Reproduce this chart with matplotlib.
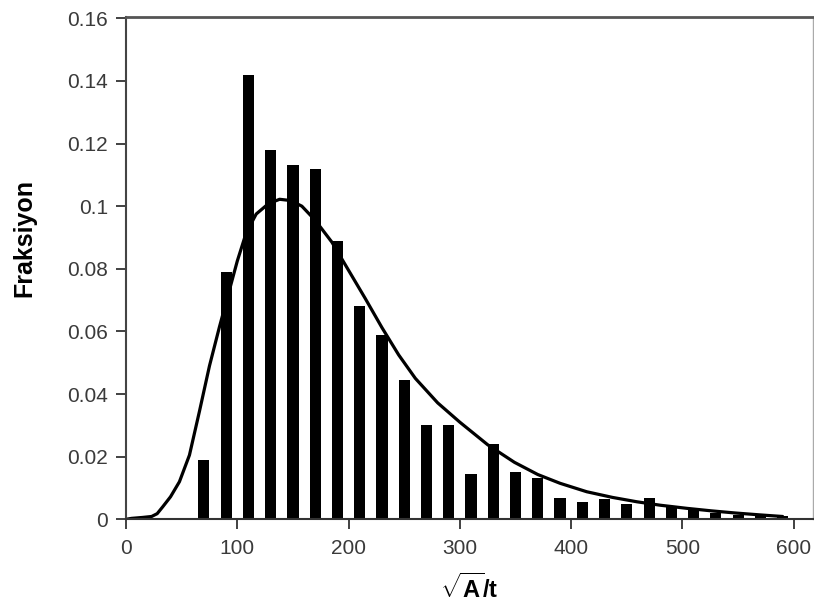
import numpy as np
import matplotlib.pyplot as plt

plt.rcParams['font.family'] = ['Liberation Sans', 'DejaVu Sans']
plt.rcParams['mathtext.fontset'] = 'custom'
plt.rcParams['mathtext.rm'] = 'Liberation Sans:bold'
plt.rcParams['mathtext.it'] = 'Liberation Sans:bold'
plt.rcParams['mathtext.bf'] = 'Liberation Sans:bold'

# Histogram bars (bin centres and fractions)
bin_centers = [70, 90, 110, 130, 150, 170, 190, 210, 230, 250, 270, 290, 310,
               330, 350, 370, 390, 410, 430, 450, 470, 490, 510, 530, 550, 570, 590]
fractions = [0.019, 0.079, 0.142, 0.118, 0.113, 0.112, 0.089, 0.068, 0.059,
             0.0445, 0.030, 0.030, 0.0144, 0.024, 0.0152, 0.0131, 0.0067, 0.0056,
             0.0065, 0.005, 0.0067, 0.004, 0.003, 0.002, 0.0015, 0.0012, 0.001]

# Fitted distribution curve
curve_x = [0, 5, 15, 23, 28, 33, 40, 48, 57, 66, 75, 84, 92, 100, 108, 117, 128,
           138, 148, 158, 170, 185, 200, 215, 230, 245, 260, 280, 300, 325, 349,
           370, 390, 414, 437, 459, 480, 504, 526, 548, 570, 590]
curve_y = [0.0, 0.0003, 0.0006, 0.0009, 0.0018, 0.0040, 0.0072, 0.0120, 0.0205,
           0.0345, 0.0490, 0.0615, 0.0720, 0.0825, 0.0915, 0.0975, 0.1008, 0.1022,
           0.1018, 0.1000, 0.0955, 0.0885, 0.0795, 0.0705, 0.0612, 0.0525, 0.0450,
           0.0372, 0.0310, 0.0238, 0.0182, 0.0143, 0.0115, 0.0088, 0.0070, 0.0056,
           0.0045, 0.0035, 0.0027, 0.0020, 0.0014, 0.0009]

xticks = [0, 100, 200, 300, 400, 500, 600]
yticks = [0, 0.02, 0.04, 0.06, 0.08, 0.1, 0.12, 0.14, 0.16]
ytick_labels = ['0', '0.02', '0.04', '0.06', '0.08', '0.1', '0.12', '0.14', '0.16']

fig = plt.figure(figsize=(8.14, 6.15), dpi=100)
ax = fig.add_axes([0.1548, 0.1556, 0.8436, 0.8172])

ax.bar(bin_centers, fractions, width=10, color='black')
ax.plot(curve_x, curve_y, color='black', lw=2.3,
        solid_capstyle='round', solid_joinstyle='round')

ax.set_xlim(0, 617)
ax.set_ylim(0, 0.1605)
ax.set_xticks(xticks)
ax.set_yticks(yticks)
ax.set_yticklabels(ytick_labels)

ax.tick_params(direction='out', length=7, width=1.3, color='#333333',
               labelsize=15, labelcolor='#3a3a3a')
ax.tick_params(axis='x', pad=7)
ax.tick_params(axis='y', pad=6)

ax.spines['top'].set_color('#555555')
ax.spines['top'].set_linewidth(2)
ax.spines['right'].set_color('#aaaaaa')
ax.spines['right'].set_linewidth(1)
ax.spines['left'].set_color('#444444')
ax.spines['left'].set_linewidth(1.5)
ax.spines['bottom'].set_color('#333333')
ax.spines['bottom'].set_linewidth(1.5)

ax.set_ylabel('Fraksiyon', fontsize=18, fontweight='bold')
ax.yaxis.set_label_coords(-0.131, 0.56)
ax.set_xlabel(r'$\sqrt{A}$/t', fontsize=17, fontweight='bold')
ax.xaxis.set_label_coords(0.5, -0.108)

fig.savefig('out.png', dpi=100)
